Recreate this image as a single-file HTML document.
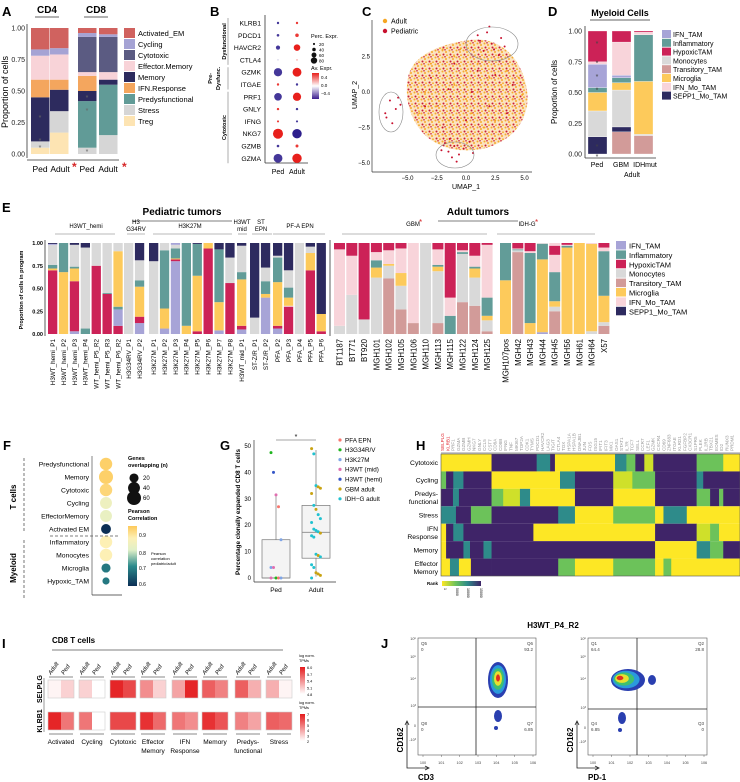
<!DOCTYPE html>
<html><head><meta charset="utf-8">
<style>
html,body{margin:0;padding:0;background:#fff;}
svg{display:block;font-family:"Liberation Sans",Arial,sans-serif;}
.pl{font-weight:bold;font-size:13px;}
.t{font-size:7px;fill:#222;}
.s{font-size:5.5px;fill:#333;}
</style></head>
<body>
<svg id="fig" width="740" height="782" viewBox="0 0 740 782" xmlns="http://www.w3.org/2000/svg">
<defs>
<pattern id="umapdots" width="7" height="7" patternUnits="userSpaceOnUse">
<rect width="7" height="7" fill="#fbe2bd"/>
<circle cx="1.5" cy="1.5" r="1" fill="#f6a623"/><circle cx="5" cy="3" r="1" fill="#f6a623"/><circle cx="2.5" cy="5.5" r="1" fill="#c8102e"/><circle cx="6" cy="6.2" r="0.9" fill="#f6a623"/><circle cx="4" cy="0.8" r="0.8" fill="#c8102e"/>
</pattern>
<linearGradient id="fgrad" x1="0" y1="1" x2="0" y2="0"><stop offset="0" stop-color="#0b2f55"/><stop offset="0.33" stop-color="#2b8a8c"/><stop offset="0.6" stop-color="#e0f0c8"/><stop offset="0.8" stop-color="#fdf0b5"/><stop offset="1" stop-color="#fdc95a"/></linearGradient>
<linearGradient id="bgrad" x1="0" y1="1" x2="0" y2="0"><stop offset="0" stop-color="#3b1d8f"/><stop offset="0.5" stop-color="#ffffff"/><stop offset="1" stop-color="#e8201c"/></linearGradient>
<linearGradient id="igrad" x1="0" y1="1" x2="0" y2="0"><stop offset="0" stop-color="#ffffff"/><stop offset="1" stop-color="#e41a1c"/></linearGradient>
<linearGradient id="hgrad" x1="0" y1="0" x2="1" y2="0"><stop offset="0" stop-color="#fde725"/><stop offset="0.35" stop-color="#6cc25a"/><stop offset="0.65" stop-color="#2e8b8a"/><stop offset="1" stop-color="#3f2468"/></linearGradient>
</defs>
</svg>
<script>
// ---------- DATA ----------
// Panel A
const aBars=['CD4 Ped','CD4 Adult','CD8 Ped','CD8 Adult'];
const aCats=['Treg','Stress','Predysfunctional','Memory','IFN.Response','Effector.Memory','Cytotoxic','Cycling','Activated_EM'];
const aTreg=[0.05,0.17,0,0];
const aStress=[0.05,0.17,0.05,0.15];
const aPredys=[0,0,0.37,0.40];
const aMemory=[0.35,0.17,0.08,0.04];
const aIFN=[0.14,0.08,0.12,0];
const aEffMem=[0.19,0.20,0.03,0.06];
const aCyto=[0,0,0.28,0.28];
const aCycling=[0.05,0.05,0.03,0.02];
const aActEM=[0.17,0.16,0.04,0.05];
const aLegend=['Activated_EM','Cycling','Cytotoxic','Effector.Memory','Memory','IFN.Response','Predysfunctional','Stress','Treg'];
// Panel B
const bGenes=['KLRB1','PDCD1','HAVCR2','CTLA4','GZMK','ITGAE','PRF1','GNLY','IFNG','NKG7','GZMB','GZMA'];
const bPedPct=[10,12,25,2,60,10,55,10,8,75,12,65];
const bAdPct=[10,20,45,3,65,10,60,10,8,70,15,70];
const bPedExp=[-0.4,-0.4,-0.4,-0.1,-0.4,0.4,-0.4,0.4,0.4,0.45,-0.4,-0.4];
const bAdExp=[0.4,0.4,0.45,0.2,0.45,-0.4,0.45,-0.4,-0.4,-0.45,0.4,0.45];
// Panel C (representative points)
const cPedX=[1.2,1.8,2.4,3.0,2.0,2.8,1.5,3.3,2.2,1.0,-6.5,-6.0,-6.8,-5.8,-6.3,-6.9,-5.6,-1.5,-1.0,-0.6,-1.8,-0.2,-1.2,0.3,-0.8,-2.1,0.6,-1.4,-3,-1,0.5,2,3.5,-2,1,4,-3.5,0,2.5,-1.5];
const cPedY=[3.6,4.2,3.0,3.8,4.6,2.6,2.9,3.2,3.4,4.0,-0.6,-1.2,-1.8,-0.4,-2.2,-1.5,-0.9,-4.2,-3.8,-4.4,-3.6,-4.0,-4.6,-3.5,-4.9,-4.1,-4.3,-3.3,1,2,0,-1,-1.5,-2.5,1.5,0.5,-1,-2,1.2,0.2];
const cAdX=[-3,-2,-1,0,1,2,3,4,4.5,-3.5,-2.5,-1.5,0.5,1.5,2.5,3.5,-1,0,1,2,-2,-4,4.8,-0.5];
const cAdY=[2,3,2.5,1.5,2,1,0.5,-0.5,1,0,-1,-2,-1.5,-2.5,-2,1.5,0.5,-0.5,0,-1,-3,-1.5,-0.2,3];
// Panel D
const dBars=['Ped','GBM','IDHmut'];
const dCats=['Transitory_TAM','SEPP1_Mo_TAM','Monocytes','Microglia','Inflammatory','IFN_TAM','IFN_Mo_TAM','HypoxicTAM'];
const dTrans=[0,0.18,0.15];
const dSEPP1=[0.14,0.04,0];
const dMono=[0.21,0.30,0.01];
const dMicro=[0.15,0.06,0.43];
const dInflam=[0.04,0.04,0.38];
const dIFNTAM=[0.19,0.02,0];
const dIFNMo=[0.02,0.27,0.02];
const dHyp=[0.25,0.09,0.01];
const myeLegend=['IFN_TAM','Inflammatory','HypoxicTAM','Monocytes','Transitory_TAM','Microglia','IFN_Mo_TAM','SEPP1_Mo_TAM'];
// Panel E  (cat index: 0 IFN_TAM,1 Inflam,2 Hypoxic,3 Mono,4 Transitory,5 Microglia,6 IFN_Mo,7 SEPP1)
const ePedNames=['H3WT_hemi_P1','H3WT_hemi_P2','H3WT_hemi_P3','H3WT_hemi_P4','WT_hemi_P5_R2','WT_hemi_P5_R3','WT_hemi_P6_R2','H3G34RV_P1','H3G34RV_P2','H3K27M_P1','H3K27M_P2','H3K27M_P3','H3K27M_P4','H3K27M_P5','H3K27M_P6','H3K27M_P7','H3K27M_P8','H3WT_mid_P1','ST-Z/R_P1','ST-Z/R_P2','PFA_P2','PFA_P3','PFA_P4','PFA_P5','PFA_P6'];
const ePedGroup=[0,0,0,0,0,0,0,1,1,2,2,2,2,2,2,2,2,3,4,4,5,5,5,5,5];
const ePedSegs=[
[[2,.70],[5,.02],[1,.04],[3,.22],[0,.01],[7,.01]],
[[5,.68],[1,.32]],
[[0,.03],[2,.55],[5,.14],[1,.02],[3,.24],[7,.02]],
[[1,.06],[3,.89],[7,.05]],
[[2,.75],[3,.25]],
[[2,.44],[1,.01],[3,.55]],
[[2,.09],[0,.18],[1,.03],[5,.61],[3,.09]],
[[3,1]],
[[0,.12],[2,.07],[5,.33],[1,.07],[3,.22],[7,.19]],
[[3,.80],[7,.20]],
[[0,.06],[5,.22],[1,.64],[3,.08]],
[[0,.80],[2,.02],[5,.01],[1,.11],[3,.04],[0,.02]],
[[5,.09],[1,.91]],
[[2,.03],[5,.61],[1,.35],[7,.01]],
[[2,.94],[5,.06]],
[[0,.04],[5,.31],[1,.58],[7,.07]],
[[2,.56],[3,.28],[7,.16]],
[[0,.05],[2,.04],[5,.51],[1,.08],[3,.29],[7,.03]],
[[3,.18],[7,.82]],
[[0,.40],[5,.04],[1,.14],[3,.15],[7,.27]],
[[0,.06],[2,.03],[5,.48],[1,.27],[3,.02],[7,.14]],
[[2,.30],[6,.01],[5,.09],[1,.11],[3,.19],[7,.30]],
[[3,1]],
[[2,.70],[5,.19],[3,.07],[7,.04]],
[[2,.03],[5,.19],[7,.78]]];
const eAdNames=['BT1187','BT771','BT920','MGH101','MGH102','MGH105','MGH106','MGH110','MGH113','MGH115','MGH122','MGH124','MGH125','MGH107pos','MGH42','MGH43','MGH44','MGH45','MGH56','MGH61','MGH64','X57'];
const eAdGroup=[0,0,0,0,0,0,0,0,0,0,0,0,0,1,1,1,1,1,1,1,1,1];
const eAdSegs=[
[[3,.09],[6,.84],[2,.07]],
[[3,.43],[6,.43],[2,.14]],
[[3,.16],[2,.84]],
[[3,.62],[5,.11],[1,.08],[6,.09],[2,.10]],
[[4,.61],[3,.14],[5,.02],[6,.15],[2,.08]],
[[4,.27],[3,.26],[5,.14],[6,.27],[2,.06]],
[[4,.12],[6,.88]],
[[3,1]],
[[4,.12],[3,.57],[5,.05],[1,.02],[6,.17],[2,.07]],
[[1,.20],[6,.20],[2,.60]],
[[4,.35],[3,.53],[1,.02],[6,.02],[2,.08]],
[[4,.31],[3,.31],[5,.10],[1,.02],[6,.12],[2,.14]],
[[4,.03],[3,.12],[5,.05],[1,.20],[6,.58],[2,.02]],
[[5,.59],[1,.41]],
[[4,.90],[3,.02],[1,.01],[6,.01],[2,.06]],
[[5,.12],[1,.77],[6,.02],[2,.09]],
[[0,.02],[5,.80],[1,.17],[3,.01]],
[[4,.25],[3,.05],[5,.06],[1,.32],[6,.19],[2,.10],[6,.03]],
[[5,.95],[1,.02],[6,.01],[2,.02]],
[[5,1]],
[[3,.03],[5,.96],[6,.01]],
[[4,.09],[3,.04],[5,.29],[1,.49],[6,.04],[2,.05]]];
// Panel F
const fLabels=['Predysfunctional','Memory','Cytotoxic','Cycling','EffectorMemory','Activated EM','Inflammatory','Monocytes','Microglia','Hypoxic_TAM'];
const fSize=[45,60,45,40,40,25,45,45,20,10];
const fCorr=[0.95,0.95,0.94,0.85,0.83,0.6,0.9,0.9,0.68,0.68];
// Panel G
const gGroupNames=['PFA EPN','H3G34R/V','H3K27M','H3WT (mid)','H3WT (hemi)','GBM adult','IDH\u2212G adult'];
const gPedVals=[47.5,40,31.5,27,14.5,4,4,0,0,0,0];
const gPedGrp=[1,4,3,0,2,2,3,1,0,2,3];
const gAdVals=[49,47,35,34.5,34,32,27.5,26,24,22.5,21,18.5,18,17.5,17,16,15.5,9,8.5,8,5,4,2,1.5,1,0];
const gAdGrp=[5,6,6,5,5,5,6,5,6,6,6,6,6,6,5,6,6,6,5,6,6,6,5,5,5,6];
const gPedBox=[0,0,0,14.5,31.5];
const gAdBox=[0.5,7.5,17.3,27.5,48.5];
// Panel H (segments: [end fraction, level])
const hRows=['Cytotoxic','Cycling','Predys-\nfunctional','Stress','IFN\nResponse','Memory','Effector\nMemory'];
const hCyto=[[.169,0],[.32,4],[.365,3],[.381,4],[.582,0],[.62,3],[.65,2],[.68,4],[.71,1],[.855,4],[.944,2],[1,0]];
const hCycl=[[.017,2],[.041,4],[.075,3],[.169,4],[.398,0],[.448,3],[.576,4],[.64,1],[.716,2],[.855,4],[.877,3],[1,4]];
const hPred=[[.04,4],[.06,3],[.169,4],[.208,2],[.264,1],[.298,3],[.448,0],[.576,4],[.716,0],[.855,4],[.9,2],[.93,4],[.944,2],[1,4]];
const hStress=[[.05,3],[.1,4],[.169,2],[.392,4],[.448,3],[.576,0],[.716,2],[.744,0],[.822,3],[1,0]];
const hIFN=[[.017,0],[.041,4],[.075,3],[.309,4],[.716,0],[.855,4],[.9,1],[.93,2],[1,0]];
const hMem=[[.017,0],[.075,4],[.097,3],[.142,4],[.169,3],[.716,4],[.855,0],[.9,3],[.944,2],[1,4]];
const hEff=[[.03,0],[.06,3],[.1,0],[.169,4],[.392,4],[.448,2],[.576,0],[.716,2],[.744,0],[.77,2],[1,0]];
const hGenes=['SELPLG','KLRB1','PRF1','GZMA','GZMB','GZMH','NKG7','GNLY','CCL5','CST7','CD8A','CD8B','IFNG','TNF','MKI67','TOP2A','CDK1','TYMS','PDCD1','HAVCR2','LAG3','TIGIT','CTLA4','TOX','HSPA1A','HSPA1B','DNAJB1','JUN','FOS','ISG15','IFIT1','IFIT3','MX1','OAS1','STAT1','IL7R','TCF7','SELL','CCR7','LEF1','GZMK','CXCR4','CD69','ZNF683','ITGAE','KLRD1','FGFBP2','CX3CR1','S1PR5','PLEK','IL2RB','TBX21','EOMES','ID2','RUNX3','PRDM1'];
// Panel I
const iGroups=['Activated','Cycling','Cytotoxic','Effector\nMemory','IFN\nResponse','Memory','Predys-\nfunctional','Stress'];
const iSelA=[0.05,0.2,0.95,0.5,0.4,0.7,0.7,0.35];
const iSelP=[0.2,0.0,0.8,0.2,0.95,0.55,0.35,0.05];
const iKlrA=[0.95,0.6,0.8,0.9,0.6,0.9,0.55,0.7];
const iKlrP=[0.6,0.0,0.8,0.65,0.5,0.75,0.4,0.65];
// Panel J
const jLeftQ=['Q5','0','Q6','93.2','Q7','6.85','Q8','0'];
const jRightQ=['Q1','64.4','Q2','28.8','Q3','0','Q4','6.85'];
const axDecades=['10^0','10^1','10^2','10^3','10^4','10^5','10^6'];

// ---------- helpers ----------
const NS='http://www.w3.org/2000/svg';
const svg=document.getElementById('fig');
function mk(tag,attrs,parent){const e=document.createElementNS(NS,tag);for(const k in attrs)e.setAttribute(k,attrs[k]);(parent||svg).appendChild(e);return e;}
function tx(x,y,s,attrs,parent){const e=mk('text',Object.assign({x:x,y:y},attrs||{}),parent);e.textContent=s;return e;}
function grp(){return mk('g',{});}
const tColors={'Activated_EM':'#d0625f','Cycling':'#a5a3d4','Cytotoxic':'#5b5b82','Effector.Memory':'#f8d3d8','Memory':'#2d2b5e','IFN.Response':'#f4a65e','Predysfunctional':'#619b97','Stress':'#d6d6d6','Treg':'#fde4b3'};
const mColors=['#a7a4d7','#629c98','#cc2257','#d9d9d9','#d29b99','#fdca5b','#f8d4da','#2d2a5f'];
const mColorByName={'IFN_TAM':mColors[0],'Inflammatory':mColors[1],'HypoxicTAM':mColors[2],'Monocytes':mColors[3],'Transitory_TAM':mColors[4],'Microglia':mColors[5],'IFN_Mo_TAM':mColors[6],'SEPP1_Mo_TAM':mColors[7]};
function lerp(a,b,t){return Math.round(a+(b-a)*t);}
function mixc(c1,c2,t){return 'rgb('+lerp(c1[0],c2[0],t)+','+lerp(c1[1],c2[1],t)+','+lerp(c1[2],c2[2],t)+')';}

// ---------- panel letters ----------
const letters=[['A',2,16],['B',210,16],['C',362,16],['D',548,16],['E',2,212],['F',3,450],['G',220,450],['H',416,450],['I',2,648],['J',381,648]];
letters.forEach(function(l){const e=tx(l[1],l[2],l[0],{class:'pl'});

});

// ---------- Panel A ----------
(function(){
const g=grp();


const yA=function(v){return 154-126*v;};
const xs=[31,50,78,99];
const series=[aTreg,aStress,aPredys,aMemory,aIFN,aEffMem,aCyto,aCycling,aActEM];
for(let b=0;b<aBars.length;b++){let cum=0;
for(let c=0;c<aCats.length;c++){const v=series[c][b];if(v<=0)continue;
const r=mk('rect',{x:xs[b],y:yA(cum+v),width:18.5,height:126*v,fill:tColors[aCats[c]]},g);


cum+=v;}}
mk('line',{x1:27,y1:24,x2:27,y2:158,stroke:'#333','stroke-width':0.8},g);
mk('line',{x1:27,y1:160,x2:119,y2:160,stroke:'#333','stroke-width':0.8},g);
['0.00','0.25','0.50','0.75','1.00'].forEach(function(s,i){
const t=tx(25,yA(i*0.25)+2.5,s,{class:'t','text-anchor':'end'},g);

});
const yl=tx(0,0,'Proportion of cells',{'font-size':'9px',transform:'translate(8,92) rotate(-90)','text-anchor':'middle'},g);


[['Ped',40],['Adult',60],['Ped',87],['Adult',108]].forEach(function(p){
const t=tx(p[1],172,p[0],{'font-size':'8.5px','text-anchor':'middle'},g);

});
[[72,171],[122,171]].forEach(function(p){const t=tx(p[0],p[1],'*',{'font-size':'12px',fill:'#d62728','font-weight':'bold'},g);

});
[['CD4',47],['CD8',96]].forEach(function(p){
const t=tx(p[1],13,p[0],{'font-size':'10px','font-weight':'bold','text-anchor':'middle'},g);


mk('line',{x1:p[1]-12,y1:17,x2:p[1]+12,y2:17,stroke:'#333','stroke-width':0.8},g);});
[[40,120],[40,143],[40,150],[87,113],[87,100],[87,154]].forEach(function(p){
const t=tx(p[0],p[1],'*',{'font-size':'7px',fill:'#666','text-anchor':'middle'},g);

});
aLegend.forEach(function(n,i){
const r=mk('rect',{x:124,y:28+i*11,width:11,height:10,fill:tColors[n]},g);


const t=tx(138,36+i*11,n,{'font-size':'7.5px'},g);

});
})();

// ---------- Panel B ----------
(function(){
const g=grp();


const yB=function(i){return 23+i*12.3;};
const col=function(v){const t=Math.max(-1,Math.min(1,v/0.45));return t>=0?mixc([255,255,255],[232,32,28],t):mixc([255,255,255],[45,30,140],-t);};
const rad=function(p){return 0.6+p/17;};
mk('line',{x1:265,y1:15,x2:265,y2:163,stroke:'#333','stroke-width':0.8},g);
mk('line',{x1:265,y1:163,x2:308,y2:163,stroke:'#333','stroke-width':0.8},g);
bGenes.forEach(function(gn,i){
const t=tx(261,yB(i)+2.5,gn,{'font-size':'6.8px','text-anchor':'end'},g);


const c1=mk('circle',{cx:278,cy:yB(i),r:rad(bPedPct[i]),fill:col(bPedExp[i])},g);


const c2=mk('circle',{cx:297,cy:yB(i),r:rad(bAdPct[i]),fill:col(bAdExp[i])},g);

});
[['Ped',278],['Adult',297]].forEach(function(p){const t=tx(p[1],174,p[0],{'font-size':'7px','text-anchor':'middle'},g);

});
[['Dysfunctional',226,0,3],['Pre-',212,4,5],['Dysfunc.',220,4,5],['Cytotoxic',226,6,11]].forEach(function(p){
const cy=(yB(p[2])+yB(p[3]))/2;
const t=tx(0,0,p[0],{'font-size':'5.5px','font-weight':'bold','text-anchor':'middle',transform:'translate('+p[1]+','+cy+') rotate(-90)'},g);

});
mk('line',{x1:228,y1:yB(0)-5,x2:228,y2:yB(3)+5,stroke:'#777','stroke-width':0.6},g);
mk('line',{x1:228,y1:yB(4)-5,x2:228,y2:yB(5)+5,stroke:'#777','stroke-width':0.6},g);
mk('line',{x1:228,y1:yB(6)-5,x2:228,y2:yB(11)+5,stroke:'#777','stroke-width':0.6},g);
const lt=tx(311,38,'Perc. Expr.',{'font-size':'5.5px'},g);


[20,40,60,80].forEach(function(v,i){mk('circle',{cx:314,cy:44+i*5.5,r:rad(v)*0.6,fill:'#111'},g);
const t=tx(319,46+i*5.5,String(v),{'font-size':'4.5px'},g);

});
const lt2=tx(311,70,'Av. Expr.',{'font-size':'5.5px'},g);


mk('rect',{x:312,y:73,width:7,height:26,fill:'url(#bgrad)'},g);
[['0.4',79],['0.0',87],['\u22120.4',95]].forEach(function(p){tx(321,p[1],p[0],{'font-size':'4.5px'},g);});
})();

// ---------- Panel C ----------
(function(){
const g=grp();


const xC=function(v){return 466+v*11.7;};
const yC=function(v){return 92-v*14.2;};
const cloud=mk('path',{d:'M408,78 C412,55 440,44 470,40 C500,36 522,58 527,90 C531,120 512,142 482,149 C458,153 440,148 426,136 C410,121 404,98 408,78Z',fill:'url(#umapdots)',opacity:0.95},g);


for(let i=0;i<cAdX.length;i++){const c=mk('circle',{cx:xC(cAdX[i]),cy:yC(cAdY[i]),r:1,fill:'#f6a623'},g);

}
for(let i=0;i<cPedX.length;i++){const c=mk('circle',{cx:xC(cPedX[i]),cy:yC(cPedY[i]),r:1,fill:'#c8102e'},g);

}
[[492,44,26,17],[391,112,12,20],[455,155,19,13]].forEach(function(e){const el=mk('ellipse',{cx:e[0],cy:e[1],rx:e[2],ry:e[3],fill:'none',stroke:'#888','stroke-width':0.6},g);

});
mk('line',{x1:372,y1:20,x2:372,y2:172,stroke:'#333','stroke-width':0.7},g);
mk('line',{x1:372,y1:172,x2:532,y2:172,stroke:'#333','stroke-width':0.7},g);
[-5,-2.5,0,2.5,5].forEach(function(v){const t=tx(xC(v),180,v.toFixed(1).replace('-','\u2212'),{'font-size':'6px','text-anchor':'middle'},g);

});
[2.5,0,-2.5,-5].forEach(function(v){const t=tx(370,yC(v)+2,v.toFixed(1).replace('-','\u2212'),{'font-size':'6px','text-anchor':'end'},g);

});
const xl=tx(466,189,'UMAP_1',{'font-size':'7px','text-anchor':'middle'},g);


const yl=tx(0,0,'UMAP_2',{'font-size':'7px','text-anchor':'middle',transform:'translate(357,95) rotate(-90)'},g);


[['Adult','#f6a623',21],['Pediatric','#c8102e',31]].forEach(function(p){mk('circle',{cx:385,cy:p[2],r:2.2,fill:p[1]},g);
const t=tx(391,p[2]+2.5,p[0],{'font-size':'7px'},g);

});
})();

// ---------- Panel D ----------
(function(){
const g=grp();


const yD=function(v){return 154-123*v;};
const xs=[588,612,634];
const series=[dTrans,dSEPP1,dMono,dMicro,dInflam,dIFNTAM,dIFNMo,dHyp];
for(let b=0;b<3;b++){let cum=0;
for(let c=0;c<dCats.length;c++){const v=series[c][b];if(v<=0)continue;
const r=mk('rect',{x:xs[b],y:yD(cum+v),width:19,height:123*v,fill:mColorByName[dCats[c]],stroke:'#fff','stroke-width':0.3},g);


cum+=v;}}
mk('line',{x1:585,y1:26,x2:585,y2:158,stroke:'#333','stroke-width':0.8},g);
mk('line',{x1:585,y1:158,x2:656,y2:158,stroke:'#333','stroke-width':0.8},g);
['0.00','0.25','0.50','0.75','1.00'].forEach(function(s,i){const t=tx(582,yD(i*0.25)+2.5,s,{class:'t','text-anchor':'end'},g);

});
const yl=tx(0,0,'Proportion of cells',{'font-size':'8px','text-anchor':'middle',transform:'translate(557,92) rotate(-90)'},g);


[['Ped',597],['GBM',621],['IDHmut',645]].forEach(function(p){const t=tx(p[1],167,p[0],{'font-size':'7px','text-anchor':'middle'},g);

});
const ad=tx(632,177,'Adult',{'font-size':'7px','text-anchor':'middle'},g);


const ti=tx(620,16,'Myeloid Cells',{'font-size':'9px','font-weight':'bold','text-anchor':'middle'},g);


mk('line',{x1:590,y1:20,x2:650,y2:20,stroke:'#333','stroke-width':0.8},g);
[0.9,0.74,0.63,0.52,0.06,-0.02].forEach(function(v){tx(597,yD(v)+2.5,'*',{'font-size':'7px',fill:'#444','text-anchor':'middle'},g);});
myeLegend.forEach(function(n,i){const r=mk('rect',{x:662,y:30+i*8.8,width:9,height:8,fill:mColorByName[n]},g);


const t=tx(673,37+i*8.8,n,{'font-size':'7px'},g);

});
})();

// ---------- Panel E ----------
(function(){
const g=grp();


const yE=function(v){return 334-91*v;};
const pedStart=[48,124,149,237,250,273];
const adStart=[334,500];
const drawBar=function(x,w,segs,name){let cum=0;
segs.forEach(function(s){const r=mk('rect',{x:x,y:yE(cum+s[1]),width:w,height:91*s[1],fill:mColors[s[0]]},g);


cum+=s[1];});};
const pedX=[];let cnt={};
ePedNames.forEach(function(n,i){const gi=ePedGroup[i];cnt[gi]=(cnt[gi]||0);const x=pedStart[gi]+cnt[gi]*10.9;cnt[gi]++;pedX.push(x);drawBar(x,9.3,ePedSegs[i],n);
const t=tx(0,0,n,{'font-size':'6.3px','text-anchor':'end',transform:'translate('+(x+7)+',339) rotate(-90)'},g);

});
const adX=[];cnt={};
eAdNames.forEach(function(n,i){const gi=eAdGroup[i];cnt[gi]=(cnt[gi]||0);const x=adStart[gi]+cnt[gi]*12.3;cnt[gi]++;adX.push(x);drawBar(x,11,eAdSegs[i],n);
const t=tx(0,0,n,{'font-size':'7.8px','text-anchor':'end',transform:'translate('+(x+8.5)+',339) rotate(-90)'},g);

});
mk('line',{x1:45,y1:240,x2:45,y2:336,stroke:'#333','stroke-width':0.8},g);
mk('line',{x1:330,y1:240,x2:330,y2:336,stroke:'#333','stroke-width':0.8},g);
['0.00','0.25','0.50','0.75','1.00'].forEach(function(s,i){const t=tx(43,yE(i*0.25)+2,s,{'font-size':'5.5px','font-weight':'bold','text-anchor':'end'},g);

});
const yl=tx(0,0,'Proportion of cells in program',{'font-size':'5.5px','font-weight':'bold','text-anchor':'middle',transform:'translate(23,290) rotate(-90)'},g);


[['Pediatric tumors',182,132,232],['Adult tumors',478,438,518]].forEach(function(p){const t=tx(p[1],215,p[0],{'font-size':'10px','font-weight':'bold','text-anchor':'middle'},g);


mk('line',{x1:p[2],y1:221,x2:p[3],y2:221,stroke:'#999','stroke-width':1.2},g);});
const heads=[['H3WT_hemi',86,55,115,228],['H3',136,127,145,224],['G34RV',136,127,145,231],['H3K27M',190,153,232,228],['H3WT',242,238,247,224],['mid',242,238,247,231],['ST',261,252,272,224],['EPN',261,252,272,231],['PF-A EPN',300,273,325,228],['GBM',413,342,487,226],['IDH-G',527,497,595,226]];
heads.forEach(function(h){const t=tx(h[1],h[4],h[0],{'font-size':'6px','text-anchor':'middle'},g);

});
[[55,115],[127,145],[153,232],[238,247],[252,272],[273,325],[342,487],[497,595]].forEach(function(l){mk('line',{x1:l[0],y1:234,x2:l[1],y2:234,stroke:'#777','stroke-width':0.6},g);});
[[419,225],[535,225]].forEach(function(p){tx(p[0],p[1],'*',{'font-size':'8px',fill:'#d62728'},g);});
myeLegend.forEach(function(n,i){const r=mk('rect',{x:616,y:241+i*9.4,width:10,height:8.5,fill:mColorByName[n]},g);


const t=tx(629,248.5+i*9.4,n,{'font-size':'7.5px'},g);

});
})();

// ---------- Panel F ----------
(function(){
const g=grp();


const yF=function(i){return 464+i*13;};
const stops=[[0.6,[11,47,85]],[0.7,[43,138,140]],[0.8,[224,240,200]],[0.9,[253,240,181]],[0.96,[253,201,90]]];
const cF=function(v){for(let k=1;k<stops.length;k++){if(v<=stops[k][0]){const t=(v-stops[k-1][0])/(stops[k][0]-stops[k-1][0]);return mixc(stops[k-1][1],stops[k][1],Math.max(0,t));}}return 'rgb(253,201,90)';};
const rF=function(n){return 1.2+Math.sqrt(n)*0.75;};
mk('line',{x1:92,y1:456,x2:92,y2:595,stroke:'#333','stroke-width':0.6},g);
mk('line',{x1:92,y1:595,x2:122,y2:595,stroke:'#333','stroke-width':0.8},g);
fLabels.forEach(function(l,i){const t=tx(89,yF(i)+2.5,l,{'font-size':'6.8px','text-anchor':'end'},g);


const c=mk('circle',{cx:106,cy:yF(i),r:rF(fSize[i]),fill:cF(fCorr[i])},g);

});
mk('line',{x1:24,y1:458,x2:24,y2:532,stroke:'#555','stroke-width':0.8,'stroke-dasharray':'3,2'},g);
mk('line',{x1:24,y1:540,x2:24,y2:598,stroke:'#555','stroke-width':0.8,'stroke-dasharray':'3,2'},g);
mk('line',{x1:50,y1:536,x2:120,y2:536,stroke:'#555','stroke-width':0.8,'stroke-dasharray':'3,2'},g);
[['T cells',16,497],['Myeloid',16,568]].forEach(function(p){const t=tx(0,0,p[0],{'font-size':'8px','font-weight':'bold','text-anchor':'middle',transform:'translate('+p[1]+','+p[2]+') rotate(-90)'},g);

});
tx(128,460,'Genes',{'font-size':'5.5px','font-weight':'bold'},g);
tx(128,467,'overlapping (n)',{'font-size':'5.5px','font-weight':'bold'},g);
[20,40,60].forEach(function(n,i){mk('circle',{cx:134,cy:478+i*10,r:rF(n),fill:'#111'},g);
const t=tx(143,480+i*10,String(n),{'font-size':'6px'},g);

});
tx(128,513,'Pearson',{'font-size':'5.5px','font-weight':'bold'},g);
tx(128,520,'Correlation',{'font-size':'5.5px','font-weight':'bold'},g);
const cb=mk('rect',{x:128,y:526,width:9,height:60,fill:'url(#fgrad)'},g);


[['0.9',537],['0.8',555],['0.7',570],['0.6',586]].forEach(function(p){tx(139,p[1],p[0],{'font-size':'5px'},g);});
[['Pearson',555],['correlation',560],['pediatric/adult',565]].forEach(function(p){tx(151,p[1],p[0],{'font-size':'4px'},g);});
})();

// ---------- Panel G ----------
(function(){
const g=grp();


const yG=function(v){return 578-v*2.64;};
const gCols=['#f8766d','#1fb51f','#7fa5e6','#e06fb0','#3355c7','#c9a312','#21c2d0'];
const box=function(cx,st,name){mk('line',{x1:cx,y1:yG(st[0]),x2:cx,y2:yG(st[4]),stroke:'#777','stroke-width':0.7},g);
const r=mk('rect',{x:cx-14,y:yG(st[3]),width:28,height:yG(st[1])-yG(st[3]),fill:'#f4f4f4',stroke:'#777','stroke-width':0.7},g);


mk('line',{x1:cx-14,y1:yG(st[2]),x2:cx+14,y2:yG(st[2]),stroke:'#888','stroke-width':0.9},g);};
box(276,gPedBox,'ped');box(316,gAdBox,'adult');
gPedVals.forEach(function(v,i){const c=mk('circle',{cx:276+((i%5)-2)*2.5,cy:yG(v),r:1.5,fill:gCols[gPedGrp[i]]},g);

});
gAdVals.forEach(function(v,i){const c=mk('circle',{cx:316+((i%5)-2)*2.2,cy:yG(v),r:1.5,fill:gCols[gAdGrp[i]]},g);

});
mk('line',{x1:254,y1:440,x2:254,y2:582,stroke:'#333','stroke-width':0.7},g);
mk('line',{x1:254,y1:582,x2:336,y2:582,stroke:'#333','stroke-width':0.7},g);
[0,10,20,30,40,50].forEach(function(v){const t=tx(251,yG(v)+2,String(v),{'font-size':'6px','text-anchor':'end'},g);

});
[['Ped',276],['Adult',316]].forEach(function(p){const t=tx(p[1],592,p[0],{'font-size':'6.5px','text-anchor':'middle'},g);

});
const yl=tx(0,0,'Percentage clonally expanded CD8 T cells',{'font-size':'6.3px','font-weight':'bold','text-anchor':'middle',transform:'translate(240,512) rotate(-90)'},g);


mk('line',{x1:276,y1:440,x2:316,y2:440,stroke:'#888','stroke-width':0.7},g);
tx(296,439,'*',{'font-size':'7px','text-anchor':'middle'},g);
gGroupNames.forEach(function(n,i){mk('circle',{cx:340,cy:440+i*9.8,r:1.6,fill:gCols[i]},g);
const t=tx(345,442.3+i*9.8,n,{'font-size':'6.3px'},g);

});
})();

// ---------- Panel H ----------
(function(){
const g=grp();


const hx0=441,hx1=740,hy0=454,rh=17.43;
const xH=function(f){return hx0+f*(hx1-hx0);};
const lv=['#fde725','#cfe02a','#6cc25a','#2e8b8a','#3f2468'];
const rows=[hCyto,hCycl,hPred,hStress,hIFN,hMem,hEff];
rows.forEach(function(segs,ri){let st=0;
segs.forEach(function(s){const r=mk('rect',{x:xH(st),y:hy0+ri*rh,width:xH(s[0])-xH(st)+0.3,height:rh,fill:lv[s[1]]},g);


st=s[0];});
const parts=hRows[ri].split('\n');
parts.forEach(function(p,k){const t=tx(438,hy0+ri*rh+rh/2+2.5+(k-(parts.length-1)/2)*8,p,{'font-size':'6.8px','text-anchor':'end'},g);

});});
mk('rect',{x:hx0,y:hy0,width:hx1-hx0,height:rh*7,fill:'none',stroke:'#555','stroke-width':0.6},g);
mk('line',{x1:hx0,y1:hy0-1,x2:hx1,y2:hy0-1,stroke:'#aaa','stroke-width':1.2},g);
hGenes.forEach(function(n,i){const x=hx0+3+i*(hx1-hx0-4)/hGenes.length;
const t=tx(0,0,n,{'font-size':'4.6px',fill:i<2?'#e0202a':'#999',transform:'translate('+x+','+(hy0-3)+') rotate(-90)'},g);

});
const cb=mk('rect',{x:442,y:581,width:39,height:5,fill:'url(#hgrad)'},g);


tx(438,585,'Rank',{'font-size':'4.5px','font-weight':'bold','text-anchor':'end'},g);
[['1',444],['5000',456],['10000',467],['15000',480]].forEach(function(p){tx(0,0,p[0],{'font-size':'3.5px',transform:'translate('+p[1]+',588) rotate(90)'},g);});
})();

// ---------- Panel I ----------
(function(){
const g=grp();


const starts=[48,79,110,140,172,202,235,266];
const cw=13;
const col=function(v){return mixc([255,255,255],[228,26,28],v);};
const t0=tx(52,643,'CD8 T cells',{'font-size':'8px','font-weight':'bold'},g);


mk('line',{x1:52,y1:650,x2:283,y2:650,stroke:'#555','stroke-width':0.7},g);
iGroups.forEach(function(gn,i){const x=starts[i];
[[iSelA,0,680],[iSelP,1,680],[iKlrA,0,712],[iKlrP,1,712]].forEach(function(d){const r=mk('rect',{x:x+d[1]*cw,y:d[2],width:cw,height:18,fill:col(d[0][i])},g);

});
mk('rect',{x:x,y:680,width:2*cw,height:18,fill:'none',stroke:'#ccc','stroke-width':0.6},g);
mk('rect',{x:x,y:712,width:2*cw,height:18,fill:'none',stroke:'#ccc','stroke-width':0.6},g);
mk('line',{x1:x+1,y1:677,x2:x+2*cw-1,y2:677,stroke:'#888','stroke-width':1},g);
mk('line',{x1:x+1,y1:734,x2:x+2*cw-1,y2:734,stroke:'#888','stroke-width':1},g);
['Adult','Ped'].forEach(function(s,k){const t=tx(0,0,s,{'font-size':'6px','font-style':'italic',transform:'translate('+(x+3+k*cw)+',675) rotate(-55)'},g);

});
const parts=gn.split('\n');
parts.forEach(function(p,k){const t=tx(x+cw,744+k*9,p,{'font-size':'6.5px','text-anchor':'middle'},g);

});});
[['SELPLG',689],['KLRB1',721]].forEach(function(p){const t=tx(0,0,p[0],{'font-size':'7px','font-weight':'bold','text-anchor':'middle',transform:'translate(42,'+p[1]+') rotate(-90)'},g);

});
mk('line',{x1:44,y1:678,x2:44,y2:732,stroke:'#555','stroke-width':0.6},g);
[[667,['6.0','5.7','5.4','5.1','4.8']],[714,['7','6','5','4','3','2']]].forEach(function(L,li){
tx(299,L[0]-10,'log norm.',{'font-size':'3.8px'},g);tx(299,L[0]-5,'TPMs',{'font-size':'3.8px'},g);
const cb=mk('rect',{x:300,y:L[0],width:5,height:27,fill:'url(#igrad)'},g);


L[1].forEach(function(s,k){tx(307,L[0]+2+k*27/(L[1].length-1),s,{'font-size':'3.8px'},g);});});
})();

// ---------- Panel J ----------
(function(){
const g=grp();


const tt=tx(553,628,'H3WT_P4_R2',{'font-size':'8px','font-weight':'bold','text-anchor':'middle'},g);


const plots=[{x0:418,x1:536,vx:476,hy:707,q:jLeftQ,xl:'CD3',blob:[498,680,10,18],small:[498,716],name:'cd3'},{x0:588,x1:707,vx:637,hy:709,q:jRightQ,xl:'PD-1',blob:[628,680,17,11],small:[622,718],name:'pd1'}];
const y0=638,y1=755;
plots.forEach(function(P){
const fr=mk('rect',{x:P.x0,y:y0,width:P.x1-P.x0,height:y1-y0,fill:'#fff',stroke:'#555','stroke-width':0.6},g);


mk('line',{x1:P.vx,y1:y0,x2:P.vx,y2:y1,stroke:'#222','stroke-width':0.8},g);
mk('line',{x1:P.x0,y1:P.hy,x2:P.x1,y2:P.hy,stroke:'#222','stroke-width':0.8},g);
const b=P.blob;const cols=['#2a3fb0','#2a9adc','#3fc070','#e8e030','#e03020'];
cols.forEach(function(c,k){const s=1-k*0.2;const e=mk('ellipse',{cx:b[0]-k*(P.name==='pd1'?2:0),cy:b[1]-k*0.5,rx:b[2]*s,ry:b[3]*s,fill:c},g);

});
mk('ellipse',{cx:P.small[0],cy:P.small[1],rx:4,ry:6,fill:'#2a3fb0'},g);
mk('ellipse',{cx:P.small[0]-2,cy:P.small[1]+12,rx:2,ry:2,fill:'#2a3fb0'},g);
if(P.name==='pd1'){mk('ellipse',{cx:652,cy:680,rx:4,ry:5,fill:'#2a3fb0'},g);}
const q=P.q;
[[P.x0+3,y0+7,'start',0],[P.x1-3,y0+7,'end',2],[P.x1-3,y1-30,'end',4],[P.x0+3,y1-30,'start',6]].forEach(function(p,k){
const order=P.name==='cd3'?[0,2,4,6]:[0,2,4,6];
const a=tx(p[0],p[1],q[p[3]],{'font-size':'4.5px',fill:'#444','text-anchor':p[2]},g);


const v=tx(p[0],p[1]+6,q[p[3]+1],{'font-size':'4.5px',fill:'#444','text-anchor':p[2]},g);

});
axDecades.forEach(function(d,k){const x=P.x0+5+k*(P.x1-P.x0-8)/6;tx(x,y1+9,d.replace('10^','10'),{'font-size':'3.8px',fill:'#444','text-anchor':'middle'},g);
mk('line',{x1:x,y1:y1,x2:x,y2:y1+2,stroke:'#444','stroke-width':0.4},g);});
[['10\u2076',y0+2],['10\u2075',y0+20],['10\u2074',y0+42],['10\u00b3',P.hy],['0',P.hy+20],['-10\u00b3',P.hy+34]].forEach(function(p){tx(P.x0-2,p[1],p[0],{'font-size':'3.8px',fill:'#444','text-anchor':'end'},g);});
const yl=tx(0,0,'CD162',{'font-size':'8px','font-weight':'bold','text-anchor':'middle',transform:'translate('+(P.x0-15)+',740) rotate(-90)'},g);


mk('path',{d:'M'+(P.x0-11)+',722 L'+(P.x0-11)+',768 L'+(P.x0+10)+',768',fill:'none',stroke:'#222','stroke-width':0.8},g);
mk('path',{d:'M'+(P.x0-13)+',725 L'+(P.x0-11)+',721 L'+(P.x0-9)+',725 M'+(P.x0+7)+',766 L'+(P.x0+11)+',768 L'+(P.x0+7)+',770',fill:'none',stroke:'#222','stroke-width':0.8},g);
const xl=tx(P.x0,780,P.xl,{'font-size':'8px','font-weight':'bold'},g);

});
})();
</script>
</body></html>
